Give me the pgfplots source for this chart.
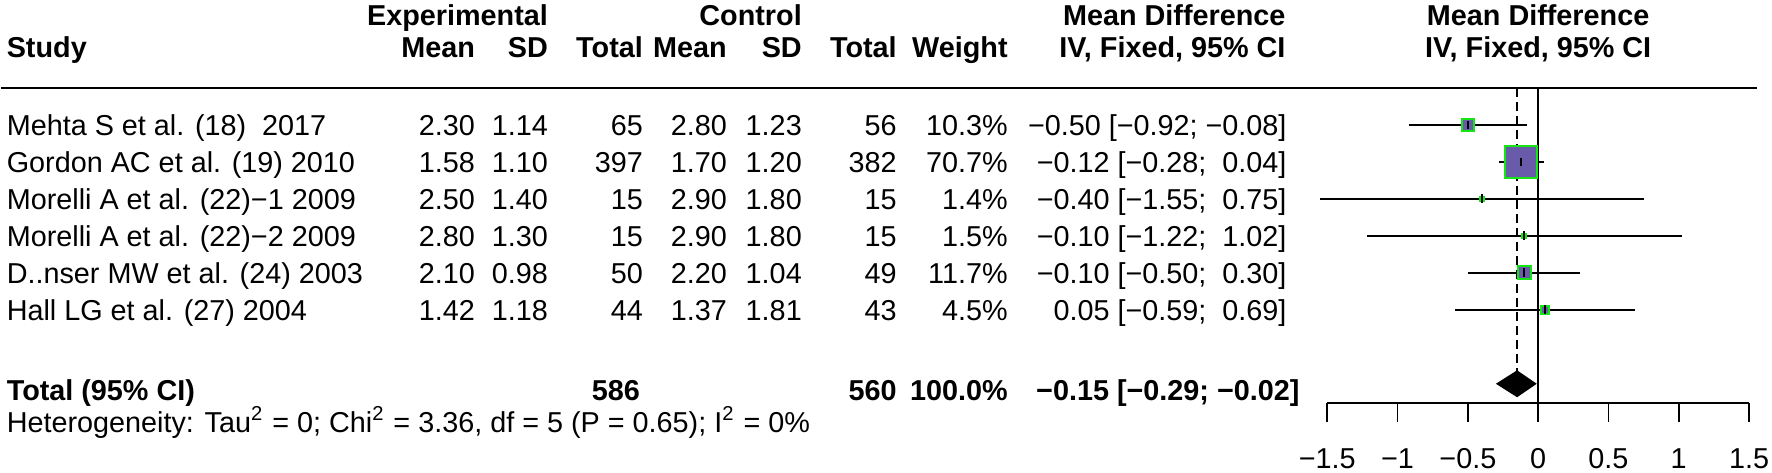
\documentclass[border=0pt]{standalone}
\usepackage{fontspec}
\setmainfont{Liberation Sans}
\usepackage{pgfplots}
\pgfplotsset{compat=1.18}
\usepackage{pgfplotstable}
\definecolor{BoxFill}{RGB}{106,90,170}
\definecolor{BoxEdge}{RGB}{20,230,20}

% row: vertical slot (total row at 0), md and 95% CI, weight in %
\pgfplotstableread{
row md lo hi w
7 -0.50 -0.92 -0.08 10.3
6 -0.12 -0.28 0.04 70.7
5 -0.40 -1.55 0.75 1.4
4 -0.10 -1.22 1.02 1.5
3 -0.10 -0.50 0.30 11.7
2 0.05 -0.59 0.69 4.5
}\studies

\newcommand{\fs}{\fontsize{7.2}{8.6}\selectfont}

\begin{document}
\begin{tikzpicture}[font=\fs,
  R/.style={anchor=base east, inner sep=0pt},
  L/.style={anchor=base west, inner sep=0pt},
  C/.style={anchor=base, inner sep=0pt}]

% table part, in pixel units of the reference (y down)
\begin{scope}[x=0.25pt, y=-0.25pt, shift={(0,118.25pt)}]
\path (0,0) rectangle (1772,473);
\draw[line width=0.5pt] (0,88) -- (1757,88);

% header
\begin{scope}[font=\fs\bfseries]
\node[R] at (548,26) {Experimental};
\node[R] at (802,26) {Control};
\node[R] at (1286,26) {Mean Difference};
\node[C] at (1538,26) {Mean Difference};
\node[L] at (5,58) {Study};
\node[R] at (475,58) {Mean};
\node[R] at (548,58) {SD};
\node[R] at (643,58) {Total};
\node[R] at (727,58) {Mean};
\node[R] at (802,58) {SD};
\node[R] at (897,58) {Total};
\node[R] at (1008,58) {Weight};
\node[R] at (1286,58) {IV, Fixed, 95\% CI};
\node[C] at (1538,58) {IV, Fixed, 95\% CI};
\end{scope}

% studies
\foreach \yy/\name/\ma/\sa/\na/\mb/\sb/\nb/\wt/\ci in {
  135.5/{Mehta S et al. (18)\ \ 2017}/2.30/1.14/65/2.80/1.23/56/10.3\%/{−0.50 [−0.92; −0.08]},
  172.5/{Gordon AC et al. (19) 2010}/1.58/1.10/397/1.70/1.20/382/70.7\%/{−0.12 [−0.28;\ \ 0.04]},
  209.5/{Morelli A et al. (22)−1 2009}/2.50/1.40/15/2.90/1.80/15/1.4\%/{−0.40 [−1.55;\ \ 0.75]},
  246.5/{Morelli A et al. (22)−2 2009}/2.80/1.30/15/2.90/1.80/15/1.5\%/{−0.10 [−1.22;\ \ 1.02]},
  283.5/{D..nser MW et al. (24) 2003}/2.10/0.98/50/2.20/1.04/49/11.7\%/{−0.10 [−0.50;\ \ 0.30]},
  320.5/{Hall LG et al. (27) 2004}/1.42/1.18/44/1.37/1.81/43/4.5\%/{0.05 [−0.59;\ \ 0.69]}}{
  \node[L] at (5,\yy) {\name};
  \node[R] at (475,\yy) {\ma};
  \node[R] at (548,\yy) {\sa};
  \node[R] at (643,\yy) {\na};
  \node[R] at (727,\yy) {\mb};
  \node[R] at (802,\yy) {\sb};
  \node[R] at (897,\yy) {\nb};
  \node[R] at (1008,\yy) {\wt};
  \node[R] at (1287,\yy) {\ci};
}

% pooled
\begin{scope}[font=\fs\bfseries]
\node[L] at (5,400.5) {Total (95\% CI)};
\node[R] at (640,400.5) {586};
\node[R] at (897,400.5) {560};
\node[R] at (1008,400.5) {100.0\%};
\node[R] at (1300,400.5) {−0.15 [−0.29; −0.02]};
\end{scope}
\node[L] at (5,433) {Heterogeneity: Tau\textsuperscript{2} = 0; Chi\textsuperscript{2} = 3.36, df = 5 (P = 0.65); I\textsuperscript{2} = 0\%};
\end{scope}

\begin{axis}[
  set layers,
  at={(331.75pt,17.5pt)}, anchor=south west,
  scale only axis, width=105.5pt, height=78.75pt,
  xmin=-1.5, xmax=1.5, ymin=-0.514, ymax=8,
  clip=false,
  axis x line*=bottom, hide y axis,
  axis line style={line width=0.45pt},
  xtick={-1.5,-1,-0.5,0,0.5,1,1.5},
  xticklabels={−1.5,−1,−0.5,0,0.5,1,1.5},
  tick align=outside, major tick length=4.75pt,
  tick style={black, line width=0.45pt},
  xticklabel style={font=\fs, inner sep=0pt, yshift=-6.5pt},
]
% reference lines
\addplot[black, line width=0.45pt] coordinates {(0,-0.514)(0,8)};
\addplot[on layer=axis background, black, line width=0.45pt,
  dash pattern=on 2.2pt off 1.3pt]
  coordinates {(-0.15,8)(-0.15,0.338)};

% study boxes, area ~ weight
\addplot[on layer=axis background, scatter, only marks, mark=square*, line width=0.5pt,
  scatter/use mapped color={draw=BoxEdge, fill=BoxFill},
  visualization depends on={0.47*sqrt(\thisrow{w}) \as \ms},
  scatter/@pre marker code/.append style={/tikz/mark size=\ms pt}]
  table[x=md, y=row] {\studies};

% confidence intervals
\addplot[black, only marks, mark=|, mark size=1.1pt, mark options={line width=0.5pt},
  error bars/.cd, x dir=both, x explicit, error mark=none,
  error bar style={black, line width=0.45pt}]
  table[x=md, y=row,
    x error plus expr=\thisrow{hi}-\thisrow{md},
    x error minus expr=\thisrow{md}-\thisrow{lo}] {\studies};

% pooled diamond
\addplot[fill=black, draw=black]
  coordinates {(-0.29,0)(-0.15,0.338)(-0.02,0)(-0.15,-0.338)} -- cycle;
\end{axis}
\end{tikzpicture}
\end{document}
